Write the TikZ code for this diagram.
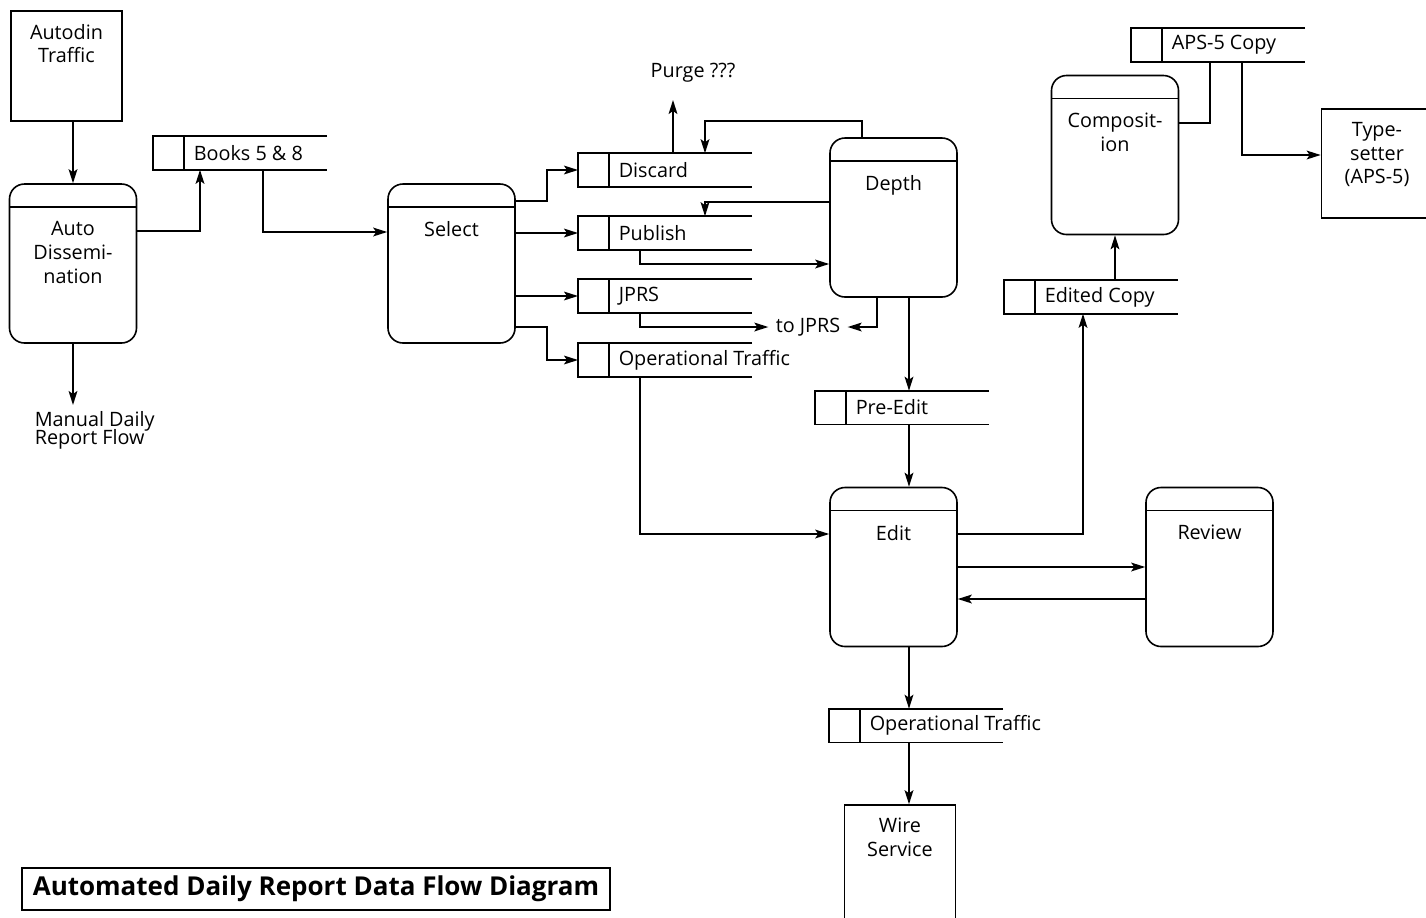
\documentclass[tikz,border=0pt]{standalone}
\usepackage{fontspec}
\setmainfont{Open Sans}
\usepackage{tikz}
\usetikzlibrary{arrows.meta}

\begin{document}
\begin{tikzpicture}[->,>={Stealth[length=7pt,width=4.4pt,inset=1.5pt]},thick,x=0.5pt,y=-0.5pt,font=\fontsize{9.9}{11.8}\selectfont,
    proc/.style={draw,rounded corners=7.5pt,minimum width=63.5pt,minimum height=79.5pt,inner sep=0pt,
      path picture={\draw[-] ([yshift=-11.5pt]path picture bounding box.north west) -- ([yshift=-11.5pt]path picture bounding box.north east);},
      label={[align=center,anchor=north,yshift=-15.5pt]north:#1}},
    ext/.style={draw,minimum width=55.5pt,minimum height=55pt,inner sep=0pt,
      label={[align=center,anchor=north,yshift=-3.3pt]north:#1}},
    store/.style={anchor=west,minimum height=16pt,inner xsep=4.5pt,inner ysep=0pt,
      append after command={\pgfextra{\draw[-] ([xshift=71.5pt]\tikzlastnode.north west) -- ([xshift=-15.5pt]\tikzlastnode.north west) -- ([xshift=-15.5pt]\tikzlastnode.south west) -- ([xshift=71.5pt]\tikzlastnode.south west) (\tikzlastnode.north west) -- (\tikzlastnode.south west);}}}]
    \useasboundingbox (0,0) rectangle (1426,917);
    \node[ext={Autodin\\Traffic}] (1) at (66.5,66) {};
    \node[proc={Auto\\Dissemi-\\nation}] (2) at (73,263.5) {};
    \node[anchor=north west,align=left,inner sep=0pt] (3) at (34,411) {Manual Daily\\[-3pt]Report Flow};
    \coordinate (m) at (73,405);
    \node[store] (4) at (184,153) {Books 5 \& 8};
    \node[proc=Select] (5) at (451.5,263.5) {};
    \node[store] (6) at (609,170) {Discard};
    \node[store] (7) at (609,233) {Publish};
    \node[store] (8) at (609,296) {JPRS};
    \node[store] (9) at (609,360) {Operational Traffic};
    \node (10) at (693,73) {Purge ???};
    \coordinate (p) at (673,100);
    \node[proc=Depth] (11) at (893.5,217.5) {};
    \node (12) at (808,327) {to JPRS};
    \node[store] (13) at (846,407.5) {Pre-Edit};
    \node[proc=Edit] (14) at (893.5,567) {};
    \node[store] (15) at (1035,297) {Edited Copy};
    \node[proc={Composit-\\ion}] (16) at (1115,155) {};
    \node[store] (17) at (1162,45) {APS-5 Copy};
    \node[ext={Type-\\setter\\(APS-5)},minimum height=54.5pt] (18) at (1377,163.5) {};
    \node[proc=Review] (19) at (1209.5,567) {};
    \node[store] (20) at (860,725.5) {Operational Traffic};
    \node[ext={Wire\\Service},minimum height=60pt] (21) at (900,865) {};
    \node[draw,semithick,font=\bfseries\fontsize{13}{15}\selectfont,minimum width=294pt,minimum height=21pt] (22) at (316,889) {Automated Daily Report Data Flow Diagram};
    \path
    (1.south -| 2.north) edge (2.north)
    (2.south) edge (m)
    ;
    \draw ([yshift=16.25pt]2.east) -| ([xshift=8pt]4.south west);
    \draw ([xshift=39.5pt]4.south west) |- ([yshift=15.75pt]5.west);
    \draw ([yshift=31.25pt]5.east) -- ++(15.5pt,0pt) |- ([xshift=-15.5pt]6.west);
    \draw (5.east |- 7.west) -- ([xshift=-15.5pt]7.west);
    \draw (5.east |- 8.west) -- ([xshift=-15.5pt]8.west);
    \draw ([yshift=-31.75pt]5.east) -- ++(15.5pt,0pt) |- ([xshift=-15.5pt]9.west);
    \draw ([xshift=32pt]6.north west) -- (p);
    \draw ([xshift=-15.75pt]11.north) -- ++(0pt,8pt) -| ([xshift=48pt]6.north west);
    \draw ([yshift=7.75pt]11.west) -| ([xshift=48pt]7.north west);
    \draw ([xshift=15.5pt]7.south west) |- ([yshift=-23.25pt]11.west);
    \draw ([xshift=15.5pt]8.south west) |- (12.west);
    \draw ([xshift=-8.25pt]11.south) |- (12.east);
    \draw ([xshift=7.75pt]11.south) -- ([xshift=31.5pt]13.north west);
    \draw ([xshift=31.5pt]13.south west) -- ([xshift=7.75pt]14.north);
    \draw ([xshift=15.5pt]9.south west) |- ([yshift=16.5pt]14.west);
    \draw ([yshift=16.5pt]14.east) -| ([xshift=24pt]15.south west);
    \draw (16.south |- 15.north) -- (16.south);
    \draw[-] ([yshift=16pt]16.east) -| ([xshift=24pt]17.south west);
    \draw ([xshift=40pt]17.south west) |- ([yshift=4.25pt]18.west);
    \draw (14.east) -- (19.west);
    \draw ([yshift=-16pt]19.west) -- ([yshift=-16pt]14.east);
    \draw ([xshift=7.75pt]14.south) -- ([xshift=24.5pt]20.north west);
    \draw ([xshift=24.5pt]20.south west) -- ([xshift=24.5pt]20.south west |- 21.north);
  \end{tikzpicture}
\end{document}
